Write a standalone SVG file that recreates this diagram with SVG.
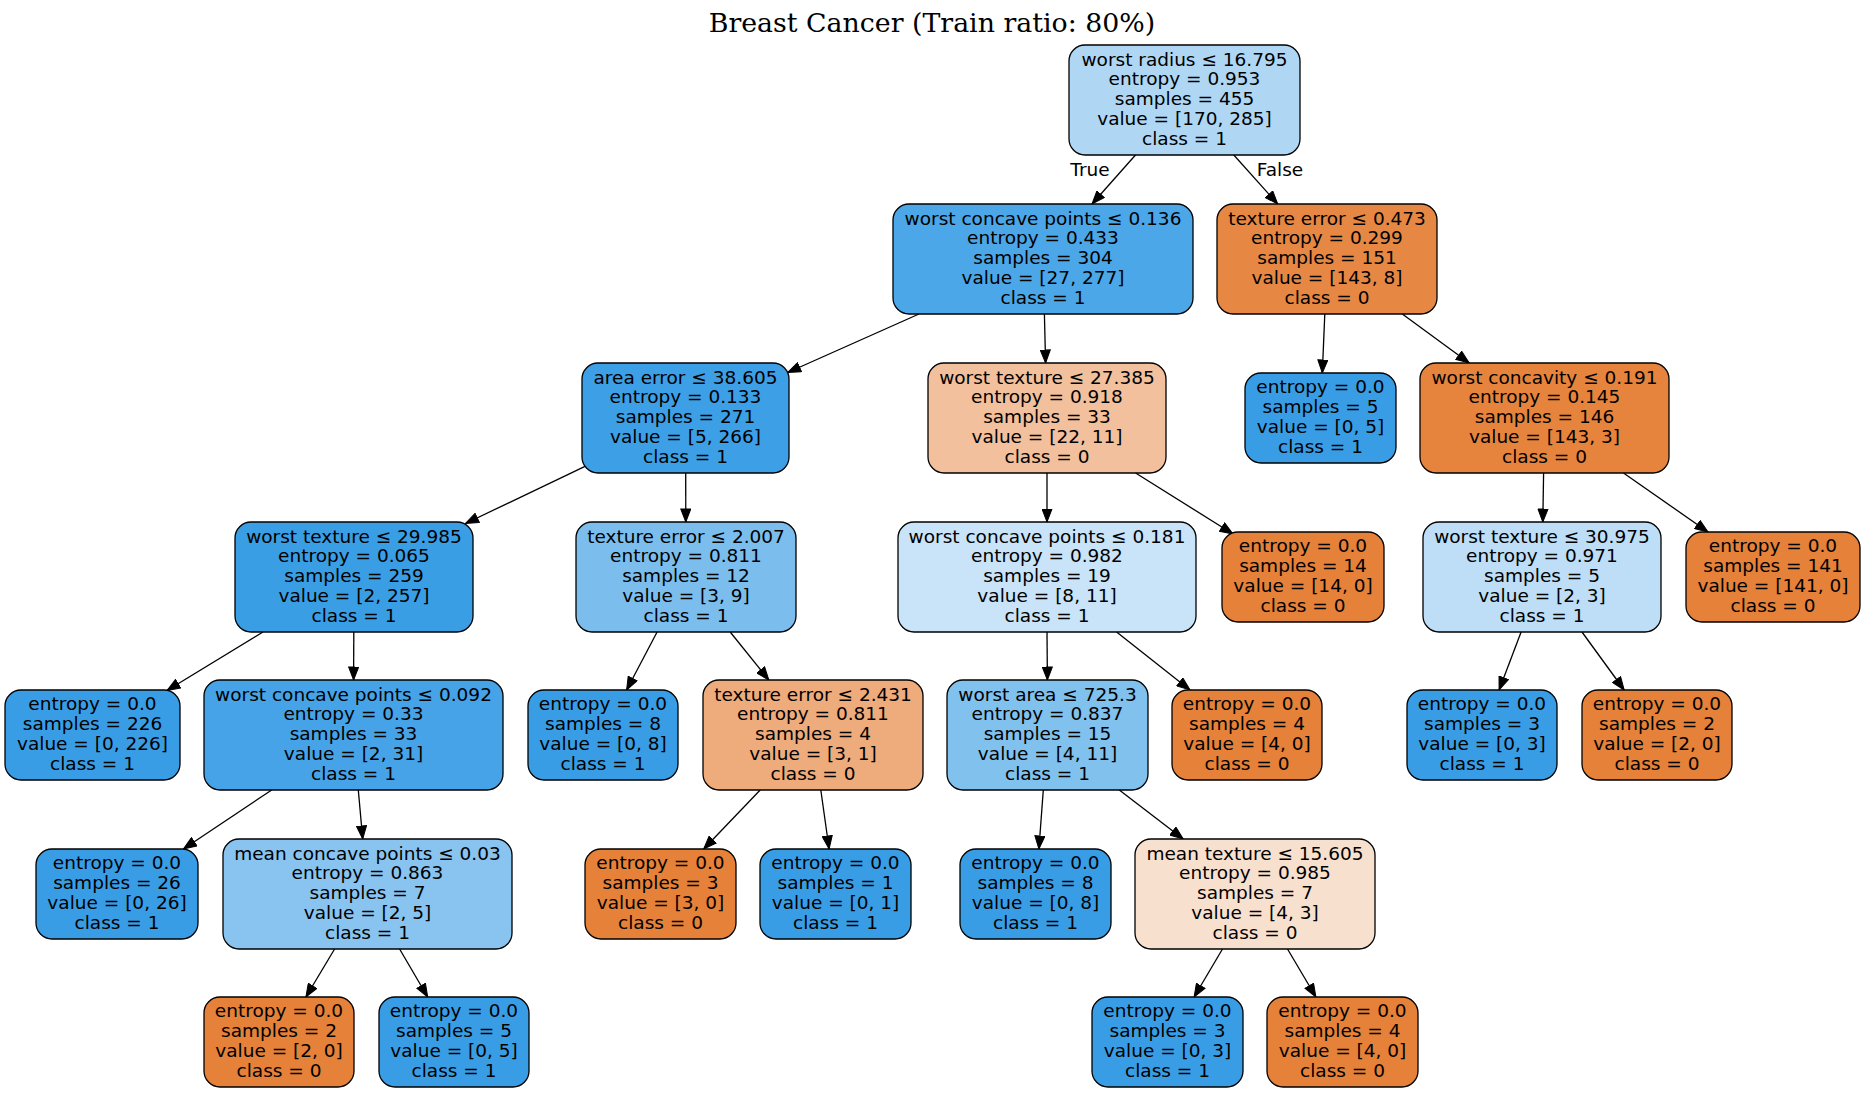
<svg xmlns="http://www.w3.org/2000/svg" width="1865" height="1093" viewBox="0 0 1865 1093">
<style>
.box{stroke:#000;stroke-width:1.3}
text{font-family:"DejaVu Sans",sans-serif;font-size:18.5px;fill:#000;text-anchor:middle}
.title{font-family:"DejaVu Serif",serif;font-size:26.8px}
.e{stroke:#000;stroke-width:1.3;fill:none;marker-end:url(#arr)}
.or{fill:#e58139}
.bl{fill:#399de5}
</style>
<defs>
<marker id="arr" markerUnits="userSpaceOnUse" markerWidth="14" markerHeight="11" viewBox="0 0 14 11" refX="13.5" refY="5.5" orient="auto">
<path d="M0.5,0.5L13.5,5.5L0.5,10.5z" fill="#000" stroke="#000" stroke-width="1"/>
</marker>
</defs>
<rect width="1865" height="1093" fill="#fff"/>
<text class="title" x="932" y="32">Breast Cancer (Train ratio: 80%)</text>

<g id="connectors">
<path class="e" d="M1135.5,155L1092,204"/>
<path class="e" d="M1233.8,155L1277.7,204"/>
<path class="e" d="M919,314L787.7,372.5"/>
<path class="e" d="M1044.4,314L1045.6,363"/>
<path class="e" d="M1324.8,314L1322.3,373"/>
<path class="e" d="M1402.3,314L1469.2,363"/>
<path class="e" d="M585,466.3L465.5,523.5"/>
<path class="e" d="M685.7,473L685.8,522"/>
<path class="e" d="M1047,473L1047,522"/>
<path class="e" d="M1135.6,473L1233,534"/>
<path class="e" d="M1543.6,473L1542.8,522"/>
<path class="e" d="M1623.5,473L1708,532"/>
<path class="e" d="M263,632L167,690.5"/>
<path class="e" d="M353.8,632L353.6,680"/>
<path class="e" d="M657.1,632L626.6,690"/>
<path class="e" d="M730.2,632L768.8,680"/>
<path class="e" d="M1047,632L1047.4,680"/>
<path class="e" d="M1116.6,632L1190,690"/>
<path class="e" d="M1521.1,632L1499.1,690"/>
<path class="e" d="M1582,632L1624.2,690"/>
<path class="e" d="M271.7,790L183.4,849"/>
<path class="e" d="M358.3,790L362.7,839"/>
<path class="e" d="M760.2,790L703.7,849"/>
<path class="e" d="M820.8,790L829.1,849"/>
<path class="e" d="M1043.3,790L1038.9,849"/>
<path class="e" d="M1119.3,790L1183.2,839"/>
<path class="e" d="M334.6,949L305.9,997"/>
<path class="e" d="M399.6,949L427.7,997"/>
<path class="e" d="M1222.5,949L1194.1,997"/>
<path class="e" d="M1287.5,949L1315.9,997"/>
<text x="1090" y="176">True</text>
<text x="1280" y="176">False</text>
</g>

<g id="n0"><rect class="box" x="1069" y="45" width="231" height="110" rx="16" fill="#afd7f4"/>
<text x="1184.5" y="65.5">worst radius ≤ 16.795</text><text x="1184.5" y="85.3">entropy = 0.953</text><text x="1184.5" y="105.1">samples = 455</text><text x="1184.5" y="124.9">value = [170, 285]</text><text x="1184.5" y="144.7">class = 1</text></g>

<g id="n1"><rect class="box" x="893" y="204" width="300" height="110" rx="16" fill="#4ca7e8"/>
<text x="1043" y="224.5">worst concave points ≤ 0.136</text><text x="1043" y="244.3">entropy = 0.433</text><text x="1043" y="264.1">samples = 304</text><text x="1043" y="283.9">value = [27, 277]</text><text x="1043" y="303.7">class = 1</text></g>

<g id="n2"><rect class="box" x="1217" y="204" width="220" height="110" rx="16" fill="#e68844"/>
<text x="1327" y="224.5">texture error ≤ 0.473</text><text x="1327" y="244.3">entropy = 0.299</text><text x="1327" y="264.1">samples = 151</text><text x="1327" y="283.9">value = [143, 8]</text><text x="1327" y="303.7">class = 0</text></g>

<g id="n3"><rect class="box" x="582" y="363" width="207" height="110" rx="16" fill="#3d9fe5"/>
<text x="685.5" y="383.5">area error ≤ 38.605</text><text x="685.5" y="403.3">entropy = 0.133</text><text x="685.5" y="423.1">samples = 271</text><text x="685.5" y="442.9">value = [5, 266]</text><text x="685.5" y="462.7">class = 1</text></g>

<g id="n4"><rect class="box" x="928" y="363" width="238" height="110" rx="16" fill="#f2c09c"/>
<text x="1047" y="383.5">worst texture ≤ 27.385</text><text x="1047" y="403.3">entropy = 0.918</text><text x="1047" y="423.1">samples = 33</text><text x="1047" y="442.9">value = [22, 11]</text><text x="1047" y="462.7">class = 0</text></g>

<g id="n5"><rect class="box bl" x="1245" y="373" width="151" height="90" rx="16"/>
<text x="1320.5" y="393.4">entropy = 0.0</text><text x="1320.5" y="413.2">samples = 5</text><text x="1320.5" y="433">value = [0, 5]</text><text x="1320.5" y="452.8">class = 1</text></g>

<g id="n6"><rect class="box" x="1420" y="363" width="249" height="110" rx="16" fill="#e6843d"/>
<text x="1544.5" y="383.5">worst concavity ≤ 0.191</text><text x="1544.5" y="403.3">entropy = 0.145</text><text x="1544.5" y="423.1">samples = 146</text><text x="1544.5" y="442.9">value = [143, 3]</text><text x="1544.5" y="462.7">class = 0</text></g>

<g id="n7"><rect class="box" x="235" y="522" width="238" height="110" rx="16" fill="#3a9ee5"/>
<text x="354" y="542.5">worst texture ≤ 29.985</text><text x="354" y="562.3">entropy = 0.065</text><text x="354" y="582.1">samples = 259</text><text x="354" y="601.9">value = [2, 257]</text><text x="354" y="621.7">class = 1</text></g>

<g id="n8"><rect class="box" x="576" y="522" width="220" height="110" rx="16" fill="#7bbeee"/>
<text x="686" y="542.5">texture error ≤ 2.007</text><text x="686" y="562.3">entropy = 0.811</text><text x="686" y="582.1">samples = 12</text><text x="686" y="601.9">value = [3, 9]</text><text x="686" y="621.7">class = 1</text></g>

<g id="n9"><rect class="box" x="898" y="522" width="298" height="110" rx="16" fill="#c9e4f8"/>
<text x="1047" y="542.5">worst concave points ≤ 0.181</text><text x="1047" y="562.3">entropy = 0.982</text><text x="1047" y="582.1">samples = 19</text><text x="1047" y="601.9">value = [8, 11]</text><text x="1047" y="621.7">class = 1</text></g>

<g id="n10"><rect class="box or" x="1222" y="532" width="162" height="90" rx="16"/>
<text x="1303" y="552.4">entropy = 0.0</text><text x="1303" y="572.2">samples = 14</text><text x="1303" y="592">value = [14, 0]</text><text x="1303" y="611.8">class = 0</text></g>

<g id="n11"><rect class="box" x="1423" y="522" width="238" height="110" rx="16" fill="#bddef6"/>
<text x="1542" y="542.5">worst texture ≤ 30.975</text><text x="1542" y="562.3">entropy = 0.971</text><text x="1542" y="582.1">samples = 5</text><text x="1542" y="601.9">value = [2, 3]</text><text x="1542" y="621.7">class = 1</text></g>

<g id="n12"><rect class="box or" x="1686" y="532" width="174" height="90" rx="16"/>
<text x="1773" y="552.4">entropy = 0.0</text><text x="1773" y="572.2">samples = 141</text><text x="1773" y="592">value = [141, 0]</text><text x="1773" y="611.8">class = 0</text></g>

<g id="n13"><rect class="box bl" x="5" y="690" width="175" height="90" rx="16"/>
<text x="92.5" y="710.4">entropy = 0.0</text><text x="92.5" y="730.2">samples = 226</text><text x="92.5" y="750">value = [0, 226]</text><text x="92.5" y="769.8">class = 1</text></g>

<g id="n14"><rect class="box" x="204" y="680" width="299" height="110" rx="16" fill="#46a3e7"/>
<text x="353.5" y="700.5">worst concave points ≤ 0.092</text><text x="353.5" y="720.3">entropy = 0.33</text><text x="353.5" y="740.1">samples = 33</text><text x="353.5" y="759.9">value = [2, 31]</text><text x="353.5" y="779.7">class = 1</text></g>

<g id="n15"><rect class="box bl" x="528" y="690" width="150" height="90" rx="16"/>
<text x="603" y="710.4">entropy = 0.0</text><text x="603" y="730.2">samples = 8</text><text x="603" y="750">value = [0, 8]</text><text x="603" y="769.8">class = 1</text></g>

<g id="n16"><rect class="box" x="703" y="680" width="220" height="110" rx="16" fill="#eeab7b"/>
<text x="813" y="700.5">texture error ≤ 2.431</text><text x="813" y="720.3">entropy = 0.811</text><text x="813" y="740.1">samples = 4</text><text x="813" y="759.9">value = [3, 1]</text><text x="813" y="779.7">class = 0</text></g>

<g id="n17"><rect class="box" x="947" y="680" width="201" height="110" rx="16" fill="#81c1ee"/>
<text x="1047.5" y="700.5">worst area ≤ 725.3</text><text x="1047.5" y="720.3">entropy = 0.837</text><text x="1047.5" y="740.1">samples = 15</text><text x="1047.5" y="759.9">value = [4, 11]</text><text x="1047.5" y="779.7">class = 1</text></g>

<g id="n18"><rect class="box or" x="1172" y="690" width="150" height="90" rx="16"/>
<text x="1247" y="710.4">entropy = 0.0</text><text x="1247" y="730.2">samples = 4</text><text x="1247" y="750">value = [4, 0]</text><text x="1247" y="769.8">class = 0</text></g>

<g id="n19"><rect class="box bl" x="1407" y="690" width="150" height="90" rx="16"/>
<text x="1482" y="710.4">entropy = 0.0</text><text x="1482" y="730.2">samples = 3</text><text x="1482" y="750">value = [0, 3]</text><text x="1482" y="769.8">class = 1</text></g>

<g id="n20"><rect class="box or" x="1582" y="690" width="150" height="90" rx="16"/>
<text x="1657" y="710.4">entropy = 0.0</text><text x="1657" y="730.2">samples = 2</text><text x="1657" y="750">value = [2, 0]</text><text x="1657" y="769.8">class = 0</text></g>

<g id="n21"><rect class="box bl" x="36" y="849" width="162" height="90" rx="16"/>
<text x="117" y="869.4">entropy = 0.0</text><text x="117" y="889.2">samples = 26</text><text x="117" y="909">value = [0, 26]</text><text x="117" y="928.8">class = 1</text></g>

<g id="n22"><rect class="box" x="223" y="839" width="289" height="110" rx="16" fill="#88c4ef"/>
<text x="367.5" y="859.5">mean concave points ≤ 0.03</text><text x="367.5" y="879.3">entropy = 0.863</text><text x="367.5" y="899.1">samples = 7</text><text x="367.5" y="918.9">value = [2, 5]</text><text x="367.5" y="938.7">class = 1</text></g>

<g id="n23"><rect class="box or" x="585" y="849" width="151" height="90" rx="16"/>
<text x="660.5" y="869.4">entropy = 0.0</text><text x="660.5" y="889.2">samples = 3</text><text x="660.5" y="909">value = [3, 0]</text><text x="660.5" y="928.8">class = 0</text></g>

<g id="n24"><rect class="box bl" x="760" y="849" width="151" height="90" rx="16"/>
<text x="835.5" y="869.4">entropy = 0.0</text><text x="835.5" y="889.2">samples = 1</text><text x="835.5" y="909">value = [0, 1]</text><text x="835.5" y="928.8">class = 1</text></g>

<g id="n25"><rect class="box bl" x="960" y="849" width="151" height="90" rx="16"/>
<text x="1035.5" y="869.4">entropy = 0.0</text><text x="1035.5" y="889.2">samples = 8</text><text x="1035.5" y="909">value = [0, 8]</text><text x="1035.5" y="928.8">class = 1</text></g>

<g id="n26"><rect class="box" x="1135" y="839" width="240" height="110" rx="16" fill="#f8e0ce"/>
<text x="1255" y="859.5">mean texture ≤ 15.605</text><text x="1255" y="879.3">entropy = 0.985</text><text x="1255" y="899.1">samples = 7</text><text x="1255" y="918.9">value = [4, 3]</text><text x="1255" y="938.7">class = 0</text></g>

<g id="n27"><rect class="box or" x="204" y="997" width="150" height="90" rx="16"/>
<text x="279" y="1017.4">entropy = 0.0</text><text x="279" y="1037.2">samples = 2</text><text x="279" y="1057">value = [2, 0]</text><text x="279" y="1076.8">class = 0</text></g>

<g id="n28"><rect class="box bl" x="379" y="997" width="150" height="90" rx="16"/>
<text x="454" y="1017.4">entropy = 0.0</text><text x="454" y="1037.2">samples = 5</text><text x="454" y="1057">value = [0, 5]</text><text x="454" y="1076.8">class = 1</text></g>

<g id="n29"><rect class="box bl" x="1092" y="997" width="151" height="90" rx="16"/>
<text x="1167.5" y="1017.4">entropy = 0.0</text><text x="1167.5" y="1037.2">samples = 3</text><text x="1167.5" y="1057">value = [0, 3]</text><text x="1167.5" y="1076.8">class = 1</text></g>

<g id="n30"><rect class="box or" x="1267" y="997" width="151" height="90" rx="16"/>
<text x="1342.5" y="1017.4">entropy = 0.0</text><text x="1342.5" y="1037.2">samples = 4</text><text x="1342.5" y="1057">value = [4, 0]</text><text x="1342.5" y="1076.8">class = 0</text></g>
</svg>
